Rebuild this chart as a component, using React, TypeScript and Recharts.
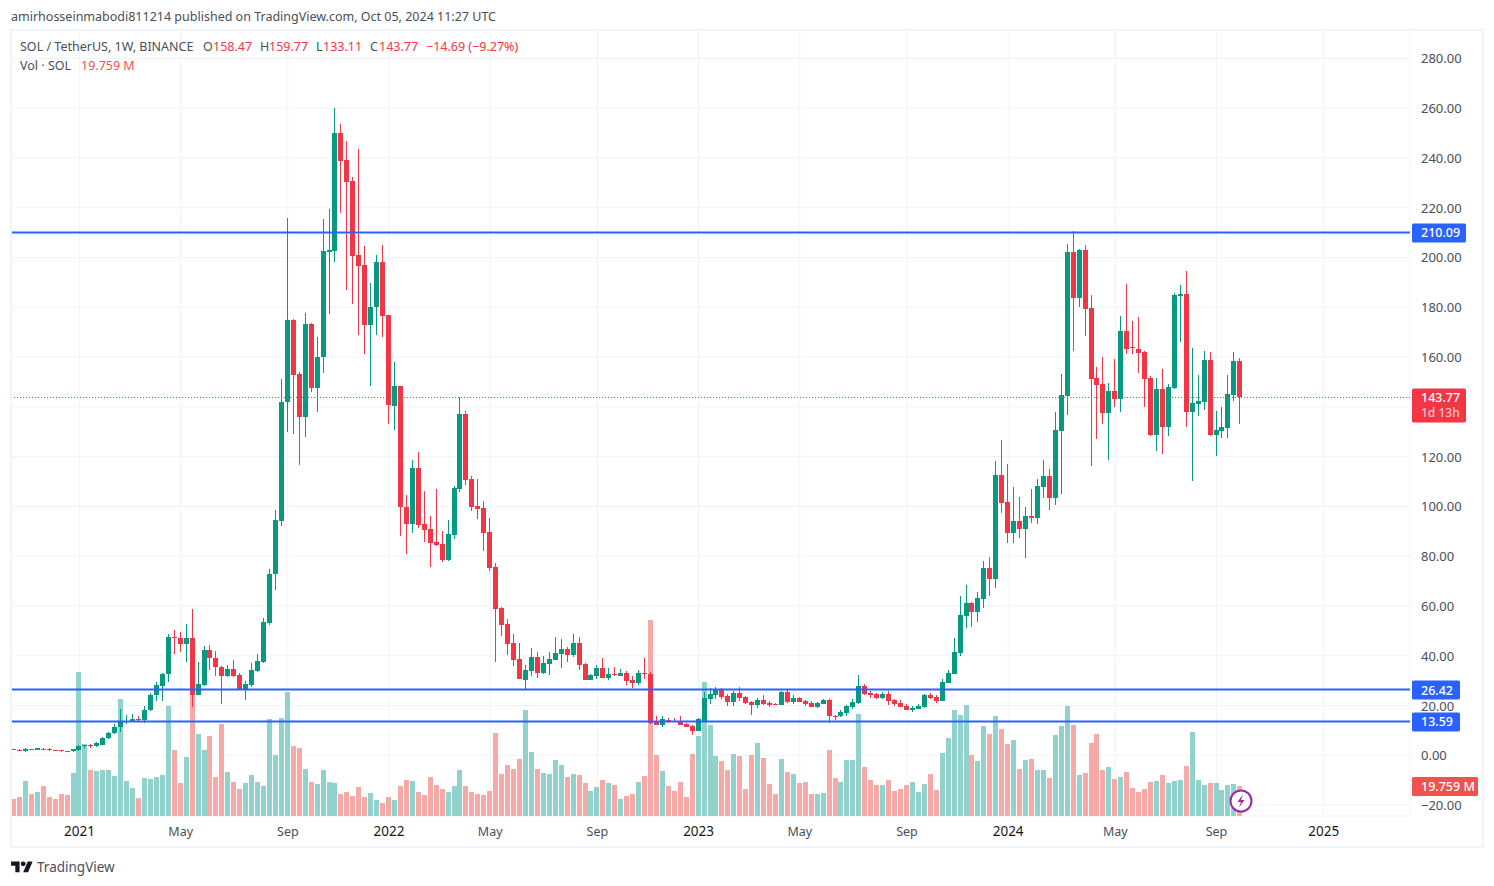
// App.tsx - SOL / USDT weekly candles with volume
import {
  Bar,
  CartesianGrid,
  ComposedChart,
  ReferenceLine,
  XAxis,
  YAxis,
} from "recharts";

const FONT = '"Noto Sans", sans-serif';
const UP = "#089981";
const DOWN = "#f23645";
const VOL_UP = "#92d2cc";
const VOL_DOWN = "#f7a9a7";
const BLUE = "#2962ff";
const GRID = "#f0f3fa";

// weeks on the time axis, past the last candle the axis just keeps going
const WEEK_COUNT = 235;

const tickWeeks = [11, 28, 46, 63, 80, 98, 115, 132, 150, 167, 185, 202, 220];
const tickLabels = ["2021", "May", "Sep", "2022", "May", "Sep", "2023", "May", "Sep", "2024", "May", "Sep", "2025"];
const priceTicks = [-20, 0, 20, 40, 60, 80, 100, 120, 140, 160, 180, 200, 220, 240, 260, 280];
const levels = [210.09, 26.42, 13.59];

const opens = [
  2.4, 2.3, 1.6, 2.6, 2.3, 2.7, 2.4, 2.1, 2.0, 1.75,
  1.6, 2.2, 3.7, 4.0, 3.6, 4.24, 6.8, 8.8, 11.2, 13.3,
  13.8, 14.6, 14.3, 18.0, 24.1, 28, 32.5, 47.7, 47.2, 44.6,
  47.2, 24.3, 28.4, 42.4, 39.2, 35.5, 32, 34.8, 32.4, 26.6,
  28.4, 34, 37.6, 53.3, 73, 94.3, 141.9, 174.7, 153, 135.8,
  173.1, 147.5, 160, 202.3, 202.6, 249.9, 239, 230.6, 200.9, 196.8,
  172.8, 180, 198, 176.7, 140.5, 148.2, 99.9, 93.1, 115.6, 93.1,
  91, 85.8, 85, 78.6, 88.7, 106.8, 137.3, 111.2, 100.3, 99.5,
  89.9, 75.8, 59.3, 52.9, 45.2, 38.8, 30.4, 34, 39.6, 33.2,
  36.8, 38.4, 40.8, 42.8, 40.4, 45.2, 36.8, 30.4, 32, 35.2,
  31.2, 32.8, 32, 33.2, 30.4, 29.2, 33.1, 32.8, 13.9, 12.3,
  14.3, 13.9, 13.9, 12.7, 11.9, 9.9, 13.9, 22.7, 24.3, 26.3,
  23.9, 21.5, 25.1, 23.5, 21.5, 20.3, 22.3, 21.1, 20.7, 20.3,
  25.5, 21.5, 23.1, 21.9, 21.1, 19.5, 20.7, 22.3, 15.9, 15.6,
  17.1, 19.5, 21.1, 27.9, 25.1, 24.7, 23.1, 24.7, 22.3, 21.1,
  19.9, 18.3, 18.7, 19.5, 24.3, 23.5, 21.9, 29.2, 32.8, 41.2,
  56.1, 61.3, 57.7, 62.9, 75.4, 71, 112.8, 101.9, 89.5, 94.3,
  91.1, 96.3, 95.5, 107.6, 112.4, 103.5, 130.1, 144.2, 202.1, 183.6,
  202.9, 179.9, 151.4, 149, 137.7, 146.2, 143.3, 170.3, 164, 163.4,
  162.2, 151.4, 128.5, 147, 131.7, 147.4, 184.4, 185.2, 138.1, 141.3,
  142.1, 159, 128.5, 130.1, 131.3, 144.6, 158.47,
];

const closes = [
  2.3, 2.25, 2.6, 2.4, 2.8, 2.4, 2.1, 2.0, 1.8, 1.7,
  2.6, 3.8, 4.0, 3.8, 4.8, 6.92, 8.93, 11.47, 13.9, 13.9,
  14.6, 14.2, 18.2, 24.2, 28.4, 32.8, 47.7, 47, 44.6, 47.2,
  24.3, 28.8, 42.4, 38.9, 35.3, 32, 34.8, 32, 26.6, 28.8,
  34.4, 38, 53.7, 73, 94.7, 142.1, 174.7, 152.7, 135.8, 173.1,
  147.5, 160.2, 202.5, 202.9, 249.9, 238.8, 230.4, 200.6, 196.5, 172.8,
  180.3, 198, 176.4, 140.7, 148.2, 99.6, 93.1, 115.6, 92.7, 90.7,
  85.4, 84.6, 78.6, 89, 107.2, 137.3, 110.8, 99.9, 99.1, 89.5,
  75.4, 58.9, 52.5, 44.8, 38.4, 30.8, 34.4, 39.6, 33.2, 37.2,
  38.8, 41.2, 42.8, 40.4, 45.2, 36.4, 30.4, 32.4, 35.2, 31.2,
  32.8, 32.4, 33.2, 30, 29.2, 33.2, 32.9, 13, 12.3, 14.7,
  13.9, 13.7, 12.3, 11.5, 9.9, 14.7, 23.1, 24.7, 26.7, 23.5,
  21.5, 25.1, 23.1, 21.1, 20.3, 22.3, 20.7, 20.3, 20.3, 25.5,
  21.5, 23.1, 21.5, 20.7, 19.5, 21.1, 22.3, 15.6, 15.6, 17.5,
  19.9, 21.5, 27.9, 24.7, 24.3, 23.1, 24.7, 21.9, 20.7, 19.5,
  18.3, 19.1, 19.9, 24.3, 23.1, 21.9, 29.6, 33.2, 41.6, 56.5,
  61.3, 57.7, 63.3, 75.4, 71, 112.8, 101.5, 89.5, 94.3, 91.1,
  96.3, 95.5, 108, 112.4, 103.5, 130.5, 144.6, 202.1, 183.6, 202.9,
  179.5, 151, 148.6, 137.7, 146.2, 143.3, 170.3, 163.4, 163.5, 161.8,
  151, 128.5, 147, 131.7, 147.8, 184.8, 185.2, 138.1, 141.7, 142.5,
  159, 128.5, 130.5, 131.7, 145, 158.6, 143.77,
];

const highs = [
  2.6, 2.5, 3.0, 2.7, 3.0, 3.0, 2.8, 2.3, 2.3, 1.9,
  2.7, 4.2, 4.2, 4.4, 5.2, 7.45, 9.5, 12.6, 18.6, 16,
  16.7, 15.6, 19.9, 25, 29.4, 33.2, 48.7, 50.5, 49.4, 52.9,
  58.8, 37.6, 44, 44.3, 41.9, 36, 36.4, 38.4, 33, 30,
  37, 40.8, 55.3, 75, 98.7, 151, 216, 175.3, 153.8, 177.9,
  173.6, 167.9, 215.3, 219.3, 260, 253.5, 246.7, 232.2, 243.5, 204.5,
  189.6, 200.9, 204.9, 177, 158.2, 148.5, 104.7, 118.8, 122, 106,
  96.3, 106.8, 90.3, 94.7, 108, 143.8, 138.5, 112.4, 111.2, 102.3,
  95.5, 77.4, 59.5, 54.9, 48.9, 45.2, 36.4, 43.2, 41.6, 40,
  41.6, 47.6, 46.8, 43.6, 48.9, 47.6, 37, 32.6, 36.4, 39.2,
  35.2, 35.6, 34.8, 34, 32, 34.4, 39.2, 33.6, 15.6, 15.6,
  15.1, 14.9, 15.6, 13.1, 12.1, 15.1, 25.5, 27.1, 27.5, 26.9,
  24.7, 25.9, 27.5, 23.9, 21.7, 23.1, 24.3, 21.9, 21.1, 25.9,
  26.3, 24.3, 23.5, 22.3, 21.9, 21.3, 22.7, 22.5, 16.3, 18.3,
  20.3, 22.7, 32.4, 28.7, 25.9, 25.1, 25.5, 25.9, 22.7, 22.3,
  20.7, 19.9, 20.7, 24.7, 25.1, 24.3, 30.8, 34.4, 47.2, 64.1,
  68.6, 61.7, 65.7, 78.2, 79.8, 118.4, 126.5, 117.2, 107.6, 103.9,
  99.9, 106.8, 111.2, 118.8, 115.2, 138.1, 153, 205.3, 210.5, 203.4,
  204.9, 184.8, 156.2, 160.2, 149.4, 159.4, 176.3, 189.2, 174.3, 175.9,
  162.6, 152.2, 151.4, 155.4, 149, 185.6, 188.8, 194.4, 163.8, 152.6,
  162.6, 162.2, 138.5, 140.1, 152.6, 162.2, 159.77,
];

const lows = [
  2.2, 2.1, 1.5, 2.3, 2.2, 2.2, 1.9, 1.8, 1.5, 1.6,
  1.5, 1.8, 3.1, 3.1, 3.4, 4.1, 6.5, 8.5, 9.5, 12.6,
  13.5, 13.5, 12.8, 17.7, 21.9, 21.7, 29.3, 40.8, 41.6, 37.6,
  19.6, 24.1, 28, 34.1, 31.7, 20.7, 31.3, 31.6, 26.3, 22.3,
  27.4, 33.3, 36.9, 52.5, 66.5, 92, 130, 129, 116.8, 128,
  145.9, 137.8, 153.5, 177.2, 198.2, 217.9, 186.9, 181.3, 169, 161.4,
  148.3, 168.8, 168, 133.3, 130.5, 88, 81, 89.5, 91.5, 85.8,
  75.8, 84.2, 77.8, 78.2, 87, 105.6, 108.4, 98.3, 95.1, 82.2,
  74.2, 37.6, 48, 40.4, 36, 30.6, 26.7, 32, 31.2, 32.8,
  32.4, 38.2, 35.2, 37.6, 39.6, 34.4, 30.2, 30.2, 30.8, 31,
  30.4, 32, 31.8, 28.3, 27.1, 28.3, 30.8, 12.7, 12.1, 11.5,
  13.1, 13.3, 12.1, 11.3, 8.2, 9.7, 13.7, 20.7, 22.7, 22.7,
  19.9, 19.9, 21.9, 20.7, 16.3, 19.1, 20.3, 19.5, 20.1, 20.1,
  21.1, 20.7, 21.3, 19.9, 19.3, 19.1, 20.5, 13.1, 14.3, 15.4,
  15.9, 18.7, 20.7, 24.3, 23.1, 22.7, 22.7, 20.3, 19.9, 19.3,
  18.1, 17.5, 18.5, 19.1, 22.7, 21.1, 21.7, 29, 32.6, 40,
  51.3, 51.7, 53.7, 59.3, 64.1, 67.4, 97.5, 85.4, 85.4, 87.5,
  79.4, 93.5, 93.1, 103.5, 98.7, 100.7, 105.1, 136.9, 162.6, 180.3,
  168.3, 116.4, 126.9, 133.3, 118.8, 140.1, 138.1, 161.4, 161.4, 153.4,
  140.1, 128.1, 122.4, 121.2, 128.1, 147.2, 165.9, 131.7, 110.4, 136.5,
  138.9, 128.1, 120.4, 127.3, 127.3, 142.5, 133.11,
];

// millions of SOL
const volumes = [
  11.2, 12.5, 23, 14.5, 15.8, 19.7, 12.5, 11.2, 14.5, 13.8,
  28.3, 94.7, 47.4, 30.3, 29.6, 30.3, 30.3, 26.3, 77, 23,
  18.4, 11.8, 25, 24.3, 25.7, 27, 72.4, 43.4, 21.7, 38.8,
  82, 54, 43.4, 52.6, 25.7, 60.5, 29, 22.4, 17.8, 21.7,
  27, 22.4, 19.7, 63.8, 40, 64.5, 81.6, 46, 44.7, 30.9,
  22.4, 21, 30.3, 22.4, 21.7, 14.5, 15.8, 13.2, 19, 12.5,
  15.1, 10.5, 8.6, 12.5, 10.5, 19.7, 23.7, 23, 15.8, 13.8,
  25.7, 20.4, 17.8, 15.8, 19.7, 30.3, 19.7, 15.8, 14.5, 13.8,
  16.4, 54.6, 27.6, 33.6, 30.9, 37.5, 69.7, 42.1, 30.9, 28.3,
  27.6, 36.8, 33.6, 25.7, 27.6, 27, 21.7, 16.4, 19, 23.7,
  21.7, 20.4, 11.2, 13.2, 14.5, 22.4, 26.3, 129, 40.1, 29.6,
  19.7, 16.4, 22.4, 12.5, 40.8, 52.6, 88.2, 59.9, 39.5, 36.2,
  30.3, 40.8, 39.5, 17.8, 40.1, 48, 38.2, 21, 14.5, 37.5,
  28.9, 27.6, 21.7, 22.4, 14.5, 14.5, 15.1, 43.4, 25, 22.4,
  36.8, 36.8, 67.1, 32.2, 23.7, 20.4, 20.4, 23.7, 16.4, 17.8,
  20.4, 22.4, 15.8, 21, 27.6, 17.1, 41.4, 51.3, 69.7, 66.4,
  73, 40.1, 36.2, 59.2, 53.9, 65.8, 57.2, 47.4, 50, 30.9,
  36.8, 37.5, 30.3, 30.3, 25, 53.3, 59.2, 72.4, 59.9, 27,
  28.3, 48, 53.9, 30.3, 32.2, 24.3, 25.7, 28.9, 18.4, 15.8,
  17.8, 22.4, 23, 27, 21.7, 23, 23.7, 32.9, 55.3, 23.7,
  20.4, 21.7, 21.7, 17.1, 20.4, 21, 19.759,
];

const rows = Array.from({ length: WEEK_COUNT }, (_, week) =>
  week < opens.length
    ? { week, open: opens[week], close: closes[week], high: highs[week], low: lows[week], volume: volumes[week] }
    : { week }
);

const isDown = (row: any) => row.close < row.open;

function Candle({ x, y, width, height, payload }: any) {
  if (height == null || payload.open == null) return null;
  return (
    <rect
      x={Math.round(x)}
      y={y}
      width={width}
      height={Math.max(height, 1)}
      fill={isDown(payload) ? DOWN : UP}
      shapeRendering="crispEdges"
    />
  );
}

function VolumeBar({ x, y, width, height, payload }: any) {
  if (height == null || payload.volume == null) return null;
  return (
    <rect
      x={Math.round(x)}
      y={y}
      width={width}
      height={height}
      fill={isDown(payload) ? VOL_DOWN : VOL_UP}
      shapeRendering="crispEdges"
    />
  );
}

function TimeTick({ x, y, payload }: any) {
  const label = tickLabels[tickWeeks.indexOf(payload.value)];
  const isYear = label.length === 4;
  return (
    <text
      x={x}
      y={y + 12}
      textAnchor="middle"
      fontFamily={FONT}
      fontSize={isYear ? 13.5 : 12.5}
      fill={isYear ? "#131722" : "#4a4e59"}
    >
      {label}
    </text>
  );
}

// 140.00 sits under the last price tag in the picture
function PriceTick({ x, y, payload }: any) {
  if (payload.value === 140) return null;
  const v = payload.value;
  return (
    <text x={x} y={y + 5} textAnchor="start" fontFamily={FONT} fontSize={13} fill="#4a4e59">
      {(v < 0 ? "\u2212" : "") + Math.abs(v).toFixed(2)}
    </text>
  );
}

function tag(lines: string[], fill: string, width: number) {
  return ({ viewBox }: any) => {
    const left = 1412;
    const y = viewBox.y;
    const height = lines.length > 1 ? 34 : 19;
    return (
      <g fontFamily={FONT}>
        <rect x={left} y={y - 9} width={width} height={height} rx={1.5} fill={fill} />
        {lines.map((line, i) => (
          <text
            key={line}
            x={left + 9}
            y={y + 5 + i * 15}
            fontSize={i ? 12 : 12.5}
            fill="#fff"
            fillOpacity={i ? 0.7 : 1}
            fontWeight={500}
          >
            {line}
          </text>
        ))}
      </g>
    );
  };
}

function Label({ left, top, color = "#4a4e59", size = 12.5, children }: any) {
  return (
    <span
      style={{
        position: "absolute",
        left,
        top,
        color,
        fontFamily: FONT,
        fontSize: size,
        lineHeight: "16px",
        whiteSpace: "nowrap",
      }}
    >
      {children}
    </span>
  );
}

export default function App() {
  return (
    <div style={{ position: "absolute", left: 0, top: 0, width: 1494, height: 886, background: "#fff", overflow: "hidden" }}>
      <ComposedChart
        width={1494}
        height={886}
        data={rows}
        margin={{ top: 30, right: 10, bottom: 40, left: 11 }}
        barCategoryGap={0}
      >
        <CartesianGrid stroke={GRID} xAxisId="time" yAxisId="price" />
        <XAxis
          xAxisId="time"
          dataKey="week"
          ticks={tickWeeks}
          interval={0}
          height={30}
          axisLine={false}
          tickLine={false}
          tick={<TimeTick />}
        />
        <XAxis xAxisId="body" dataKey="week" hide height={0} />
        <XAxis xAxisId="wick" dataKey="week" hide height={0} />
        <YAxis
          yAxisId="price"
          orientation="right"
          width={74}
          domain={[-24.39, 291.4]}
          ticks={priceTicks}
          interval={0}
          allowDataOverflow
          axisLine={false}
          tickLine={false}
          tickSize={0}
          tickMargin={11}
          tick={<PriceTick />}
        />
        <YAxis yAxisId="volume" domain={[0, 518]} hide allowDataOverflow />

        <Bar
          xAxisId="time"
          yAxisId="volume"
          dataKey="volume"
          barSize={5}
          isAnimationActive={false}
          shape={<VolumeBar />}
        />
        <Bar
          xAxisId="wick"
          yAxisId="price"
          dataKey={(d: any) => (d.open == null ? null : [d.low, d.high])}
          barSize={1}
          isAnimationActive={false}
          shape={<Candle />}
        />
        <Bar
          xAxisId="body"
          yAxisId="price"
          dataKey={(d: any) => (d.open == null ? null : [Math.min(d.open, d.close), Math.max(d.open, d.close)])}
          barSize={5}
          isAnimationActive={false}
          shape={<Candle />}
        />

        <ReferenceLine
          xAxisId="time"
          yAxisId="price"
          y={closes[closes.length - 1]}
          stroke={DOWN}
          strokeDasharray="1 2"
          label={tag(["143.77", "1d 13h"], DOWN, 54)}
        />
        <ReferenceLine
          xAxisId="time"
          yAxisId="volume"
          y={volumes[volumes.length - 1]}
          stroke="none"
          label={tag(["19.759 M"], "#ef5350", 66)}
        />
        {levels.map((level) => (
          <ReferenceLine
            key={level}
            xAxisId="time"
            yAxisId="price"
            y={level}
            stroke={BLUE}
            strokeWidth={2}
            label={tag([level.toFixed(2)], BLUE, level > 100 ? 54 : 48)}
          />
        ))}
      </ComposedChart>

      <div
        style={{
          position: "absolute",
          left: 10,
          top: 29,
          width: 1470,
          height: 815,
          border: `2px solid ${GRID}`,
          pointerEvents: "none",
        }}
      />

      <Label left={11} top={9}>amirhosseinmabodi811214 published on TradingView.com, Oct 05, 2024 11:27 UTC</Label>

      <Label left={20} top={39}>SOL / TetherUS, 1W, BINANCE</Label>
      <Label left={203} top={39}>O</Label>
      <Label left={213} top={39} color={DOWN}>158.47</Label>
      <Label left={260} top={39}>H</Label>
      <Label left={269} top={39} color={DOWN}>159.77</Label>
      <Label left={316} top={39}>L</Label>
      <Label left={323} top={39} color={DOWN}>133.11</Label>
      <Label left={370} top={39}>C</Label>
      <Label left={379} top={39} color={DOWN}>143.77</Label>
      <Label left={426} top={39} color={DOWN}>{"\u221214.69 (\u22129.27%)"}</Label>
      <Label left={20} top={58}>Vol · SOL</Label>
      <Label left={81} top={58} color="#ef5350">19.759 M</Label>

      <svg
        width={26}
        height={26}
        viewBox="0 0 26 26"
        style={{ position: "absolute", left: 1228, top: 788 }}
      >
        <circle cx={13} cy={13} r={10.5} fill="#fff" stroke="#9c27b0" strokeWidth={2} />
        <path d="M15 6.5 9.5 14H13l-2 5.5L16.5 12H13z" fill="#9c27b0" />
      </svg>

      <svg
        width={22}
        height={17}
        viewBox="0 0 36 28"
        style={{ position: "absolute", left: 11, top: 859 }}
      >
        <path d="M14 22H7V11H0V4h14v18zM28 22h-8l7.5-18h8L28 22z" fill="#131722" />
        <circle cx={20} cy={8} r={4} fill="#131722" />
      </svg>
      <Label left={37} top={859} size={13.5}>TradingView</Label>
    </div>
  );
}
